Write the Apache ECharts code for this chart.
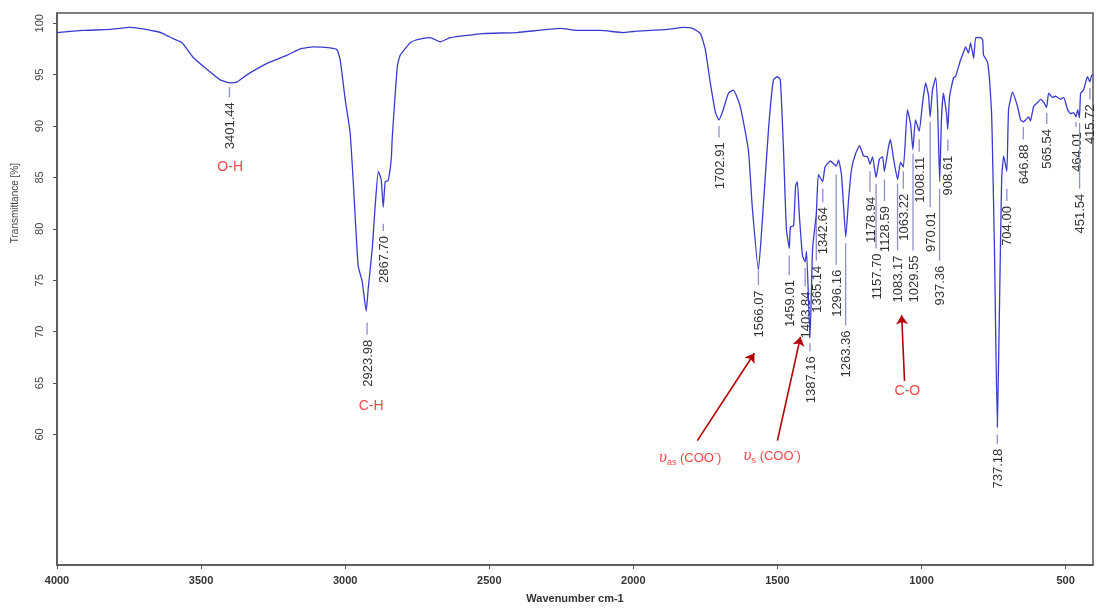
<!DOCTYPE html>
<html>
<head>
<meta charset="utf-8">
<script src="https://cdn.jsdelivr.net/npm/echarts@6/dist/echarts.min.js"></script>
<style>
  html, body { margin: 0; padding: 0; background: #fff; }
  #chart { width: 1097px; height: 609px; }
</style>
</head>
<body>
<div id="chart"></div>
<script>
// spectrum: wavenumber (cm-1) and transmittance (%)
var waveNum = [4000, 3910, 3816, 3747, 3653, 3632, 3597, 3566, 3528, 3479, 3434, 3399, 3375, 3340, 3271, 3201, 3156, 3111, 3052, 3028,
  3017, 3000, 2983, 2972, 2955, 2941, 2927, 2920, 2906, 2896, 2885, 2875, 2868, 2861, 2851, 2840, 2837, 2819, 2809, 2774,
  2750, 2705, 2670, 2635, 2521, 2403, 2254, 2194, 2115, 2035, 2000, 1882, 1826, 1795, 1767, 1750, 1733, 1715, 1703, 1688,
  1670, 1653, 1629, 1601, 1587, 1566, 1552, 1531, 1514, 1500, 1490, 1479, 1469, 1459, 1455, 1444, 1437, 1431, 1424, 1413,
  1404, 1399, 1387, 1378, 1365, 1358, 1343, 1335, 1316, 1296, 1288, 1278, 1271, 1263, 1253, 1243, 1229, 1215, 1201, 1187,
  1179, 1170, 1158, 1146, 1135, 1129, 1115, 1108, 1097, 1083, 1073, 1063, 1049, 1038, 1030, 1021, 1008, 997, 986, 976,
  970, 962, 951, 944, 937, 931, 924, 913, 909, 903, 889, 882, 865, 854, 847, 837, 830, 819, 812, 795,
  788, 785, 778, 771, 764, 757, 754, 747, 737, 729, 722, 715, 704, 698, 684, 667, 656, 647, 639, 628,
  622, 611, 597, 587, 576, 566, 559, 545, 535, 517, 507, 493, 483, 472, 464, 458, 452, 448, 438, 424,
  416, 410, 405];
var transm = [99.1, 99.3, 99.4, 99.6, 99.2, 99.0, 98.5, 98.1, 96.7, 95.5, 94.5, 94.2, 94.3, 95.0, 96.1, 96.9, 97.5, 97.7, 97.6, 97.4,
  96.4, 92.6, 89.4, 84.6, 76.4, 74.9, 72.0, 74.2, 78.1, 82.2, 85.6, 84.8, 82.1, 84.6, 84.7, 86.8, 88.7, 95.8, 96.9, 98.1,
  98.4, 98.6, 98.2, 98.6, 99.0, 99.1, 99.5, 99.3, 99.3, 99.1, 99.2, 99.4, 99.6, 99.5, 99.0, 97.4, 94.2, 91.3, 90.6, 91.6,
  93.2, 93.5, 91.9, 87.7, 82.0, 76.0, 81.0, 89.7, 94.5, 94.8, 94.5, 87.7, 80.0, 78.1, 80.2, 80.3, 84.2, 84.6, 81.3, 77.4,
  76.8, 77.8, 69.4, 78.1, 81.5, 85.3, 84.6, 86.0, 86.6, 86.1, 86.7, 85.3, 82.4, 79.2, 82.9, 85.8, 87.3, 88.1, 87.1, 87.0,
  86.3, 87.0, 85.0, 86.8, 87.0, 85.6, 87.9, 88.7, 86.8, 84.8, 86.5, 86.0, 91.6, 90.2, 87.7, 90.6, 89.5, 92.1, 94.2, 93.0,
  90.9, 93.5, 94.7, 91.6, 84.6, 90.6, 93.2, 91.1, 89.7, 92.8, 94.7, 94.8, 96.4, 97.2, 97.7, 97.1, 98.1, 96.6, 98.6, 98.6,
  98.4, 96.9, 96.6, 96.2, 94.5, 91.3, 88.0, 78.1, 60.7, 73.3, 84.8, 87.1, 85.6, 91.6, 93.3, 91.9, 90.6, 90.4, 90.6, 90.9,
  90.5, 91.9, 92.3, 92.6, 92.3, 91.8, 93.2, 92.8, 92.9, 92.6, 92.8, 91.6, 91.2, 91.3, 90.9, 91.6, 90.8, 93.2, 93.5, 94.8,
  94.3, 94.9, 95.0];

// peak labels: wavenumber, marker line top / bottom (in % transmittance)
var peakWave = [3401.44, 2923.98, 2867.70, 1702.91, 1566.07, 1459.01, 1403.84, 1387.16, 1365.14, 1342.64, 1296.16, 1263.36,
  1178.94, 1157.70, 1128.59, 1083.17, 1063.22, 1029.55, 1008.11, 970.01, 937.36, 908.61, 737.18, 704.00, 646.88, 565.54,
  464.01, 451.54, 415.72];
var markTop = [93.8, 70.9, 80.5, 90.0, 75.9, 77.4, 76.2, 68.9, 81.3, 83.9, 85.3, 78.6,
  85.6, 84.4, 84.8, 84.4, 85.6, 87.3, 88.7, 90.4, 83.9, 88.7, 60.0, 83.9, 89.9, 91.3,
  90.4, 90.3, 93.7];
var markBottom = [92.8, 69.7, 79.8, 88.9, 74.5, 75.5, 74.4, 68.1, 76.9, 82.6, 76.5, 70.6,
  83.6, 78.1, 82.7, 77.9, 83.9, 77.9, 87.5, 82.1, 76.9, 87.6, 59.1, 82.7, 88.7, 90.2,
  89.9, 83.9, 92.6];

// band assignments in red
var noteText = ['O-H', 'C-H', 'C-O', '{g|υ}{s|as}{t| (COO}{p|-}{t|)}', '{g|υ}{s|s}{t| (COO}{p|-}{t|)}'];
var noteAt = [[3399, 86.0], [2910, 62.8], [1049, 64.2], [1804, 57.7], [1519, 57.9]];
var arrows = [[[1778, 59.4], [1580, 67.9]], [[1500, 59.4], [1420, 69.5]], [[1059, 65.2], [1069, 71.6]]];

var xTicks = [4000, 3500, 3000, 2500, 2000, 1500, 1000, 500];
var yTicks = [60, 65, 70, 75, 80, 85, 90, 95, 100];

var myChart = echarts.init(document.getElementById('chart'));

var spectrum = waveNum.map(function (w, i) { return [w, transm[i]]; });
var peaks = peakWave.map(function (w, i) { return [w, markTop[i], markBottom[i]]; });
var notes = noteAt.map(function (p, i) { return { value: p, label: { formatter: noteText[i] } }; });

var option = {
    animation: false,
    backgroundColor: '#fff',
    grid: {
        left: 57, right: 4, top: 13, bottom: 40,
        show: true, borderColor: '#555', borderWidth: 1.5
    },
    xAxis: {
        type: 'value',
        inverse: true,
        min: 405, max: 4000,
        name: 'Wavenumber cm-1',
        nameLocation: 'middle',
        nameGap: 28,
        nameTextStyle: { fontSize: 11, fontWeight: 'bold', color: '#333', fontFamily: 'Liberation Sans' },
        axisLine: { lineStyle: { color: '#555', width: 1.5 } },
        axisTick: { length: 4, customValues: xTicks, lineStyle: { color: '#555' } },
        axisLabel: {
            customValues: xTicks, margin: 10, fontSize: 11, fontWeight: 'bold', color: '#333', fontFamily: 'Liberation Sans',
            formatter: function (v) { return String(v); }
        },
        splitLine: { show: false }
    },
    yAxis: {
        type: 'value',
        min: 47.3, max: 101,
        axisLine: { show: true, lineStyle: { color: '#555', width: 1.5 } },
        axisTick: { show: true, length: 4, customValues: yTicks, lineStyle: { color: '#555' } },
        axisLabel: { customValues: yTicks, rotate: 90, margin: 12, fontSize: 11, color: '#444', fontFamily: 'Liberation Sans' },
        splitLine: { show: false }
    },
    graphic: [{
        type: 'text', left: 10, top: 163,
        rotation: Math.PI / 2,
        style: { text: 'Transmittance [%]', fontSize: 10, fill: '#444', fontFamily: 'Liberation Sans' }
    }],
    series: [
        {
            name: 'spectrum',
            type: 'line',
            data: spectrum,
            showSymbol: false,
            smooth: 0.15,
            lineStyle: { color: '#3a3ad0', width: 1.3 },
            z: 3
        },
        {
            name: 'peaks',
            type: 'custom',
            data: peaks,
            clip: false,
            z: 2,
            renderItem: function (params, api) {
                var i = params.dataIndex;
                var a = api.coord([api.value(0), api.value(1)]);
                var b = api.coord([api.value(0), api.value(2)]);
                return {
                    type: 'group',
                    children: [
                        { type: 'line', shape: { x1: a[0], y1: a[1], x2: b[0], y2: b[1] },
                          style: { stroke: '#8e8ed2', lineWidth: 1.3 } },
                        { type: 'text', x: b[0] + 1, y: b[1] + 5, rotation: Math.PI / 2,
                          style: { text: peakWave[i].toFixed(2), align: 'right', verticalAlign: 'middle',
                                   fill: '#333', font: '13px "Liberation Sans"' } }
                    ]
                };
            }
        },
        {
            name: 'notes',
            type: 'scatter',
            data: notes,
            symbolSize: 1,
            itemStyle: { color: 'rgba(0,0,0,0)' },
            label: {
                show: true, position: 'inside',
                color: '#f01818', fontSize: 14, fontFamily: 'Liberation Sans',
                rich: {
                    g: { fontSize: 14, fontStyle: 'italic', fontFamily: 'DejaVu Serif', color: '#f01818', lineHeight: 18 },
                    s: { fontSize: 9, color: '#f01818', verticalAlign: 'bottom', lineHeight: 18 },
                    t: { fontSize: 13, color: '#f01818', fontFamily: 'Liberation Sans', lineHeight: 18 },
                    p: { fontSize: 9, color: '#f01818', verticalAlign: 'top', lineHeight: 18 }
                }
            },
            markLine: {
                silent: true,
                symbol: ['none', 'arrow'],
                symbolSize: 9,
                label: { show: false },
                lineStyle: { color: '#b40000', width: 1.6, type: 'solid' },
                data: arrows.map(function (p) { return [{ coord: p[0] }, { coord: p[1] }]; })
            },
            z: 4
        }
    ]
};

myChart.setOption(option);
</script>
</body>
</html>
